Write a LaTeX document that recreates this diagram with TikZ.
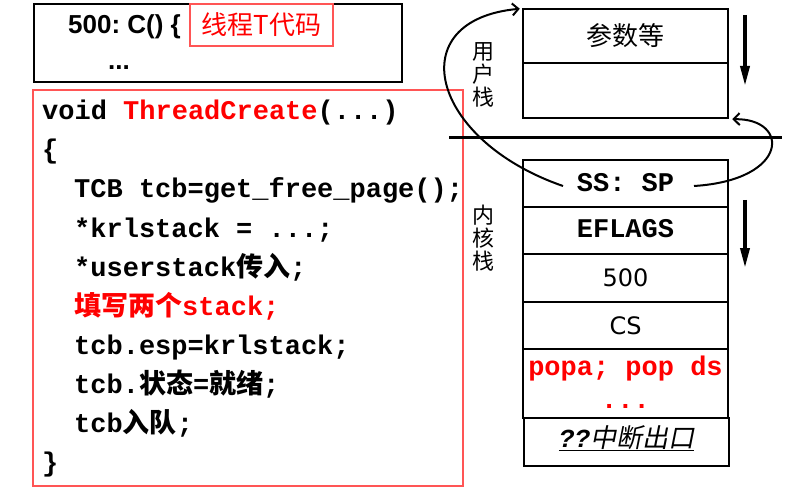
\documentclass[tikz,border=0pt]{standalone}
\usepackage{fontspec}
\setmainfont{Liberation Sans}
\setmonofont{Liberation Mono}
\newfontfamily\cjk{Noto Sans CJK SC}
\newfontfamily\cjkit[FakeSlant=0.2]{Noto Sans CJK SC}
\newfontfamily\dvs{DejaVu Sans}
\usetikzlibrary{arrows.meta,calc}
\definecolor{boxred}{RGB}{255,85,85}
\definecolor{codered}{RGB}{255,0,0}
\newcommand{\zh}[1]{{\cjk\bfseries #1}}
\frenchspacing
\begin{document}
\begin{tikzpicture}[x=1pt,y=-1pt,
  blackbox/.style={draw=black, line width=2.5pt, inner sep=0pt},
  redbox/.style={draw=boxred, line width=1.3pt, inner sep=0pt},
  codeline/.style={anchor=base west, inner sep=0pt, font=\fontsize{27}{32}\selectfont\ttfamily\bfseries},
  cell/.style={draw=black, line width=2.5pt, minimum width=205pt, inner sep=0pt, text depth=0pt, text height=16pt},
  monotext/.style={font=\fontsize{27}{32}\selectfont\ttfamily\bfseries},
  vlabel/.style={align=center, inner sep=0pt, font=\fontsize{22}{23}\selectfont\cjk},
  curvearrow/.style={draw=black, line width=2pt, -{Straight Barb[length=6pt,width=12pt]}},
  downarrow/.style={draw=black, line width=3.5pt, -{Triangle[length=20pt,width=9pt]}}
]
\useasboundingbox (0,0) rectangle (795,489);

% top code box
\node[blackbox, minimum width=368pt, minimum height=78pt] (top) at (218,43) {};
\node[anchor=base west, inner sep=0pt, font=\fontsize{26}{30}\selectfont\bfseries] (c500) at (68,34) {500: C() \{};
\node[anchor=base west, inner sep=0pt, font=\fontsize{26}{30}\selectfont\bfseries] (dots) at (108,70) {...};
\node[redbox, minimum width=143pt, minimum height=42pt, text=codered, font=\fontsize{26}{30}\selectfont\cjk] (tcode) at (261.5,25) {线程T代码};

% ThreadCreate box
\node[redbox, minimum width=430pt, minimum height=396pt] (codebox) at (248,288) {};
\node[codeline] (l0) at (42,120) {void \textcolor{codered}{ThreadCreate}(...)};
\node[codeline] (l1) at (42,159) {\{};
\node[codeline] (l2) at (74,198) {TCB tcb=get\_free\_page();};
\node[codeline] (l3) at (74,237) {*krlstack = ...;};
\node[codeline] (l4) at (74,276) {*userstack\zh{传入};};
\node[codeline, text=codered] (l5) at (74,315) {\zh{填写两个}stack;};
\node[codeline] (l6) at (74,354) {tcb.esp=krlstack;};
\node[codeline] (l7) at (74,393) {tcb.\zh{状态}=\zh{就绪};};
\node[codeline] (l8) at (74,432) {tcb\zh{入队};};
\node[codeline] (l9) at (42,471) {\}};

% user stack
\node[cell, minimum height=54pt, text height=20pt, font=\fontsize{26}{30}\selectfont\cjk] (u1) at (625.5,36) {参数等};
\node[cell, minimum height=55pt] (u2) at (625.5,90.5) {};
\node[vlabel] (ulab) at (483,75) {用\\户\\栈};

% divider
\draw[line width=3pt] (449,138) -- (782,138);

% kernel stack
\node[cell, minimum height=47pt, text height=17pt, monotext] (k1) at (625.5,183.5) {SS: SP};
\node[cell, minimum height=47pt, text height=13pt, monotext] (k2) at (625.5,230.5) {EFLAGS};
\node[cell, minimum height=48pt, font=\fontsize{24}{28}\selectfont\dvs] (k3) at (625.5,278) {500};
\node[cell, minimum height=47pt, text height=17pt, font=\fontsize{24}{28}\selectfont\dvs] (k4) at (625.5,325.5) {CS};
\node[cell, minimum height=69pt] (k5) at (625.5,383.5) {};
\node[anchor=base, inner sep=0pt, monotext, text=codered] (k5a) at (625.5,375) {popa; pop ds};
\node[anchor=base, inner sep=0pt, monotext, text=codered] (k5b) at (625.5,408) {...};
\node[cell, minimum height=48pt, text height=10pt, font=\fontsize{26}{30}\selectfont] (k6) at (626.5,442) {\underline{{\ttfamily\bfseries\itshape ??}{\cjkit 中断出口}}};
\node[vlabel] (klab) at (483,238) {内\\核\\栈};

% connectors
\coordinate (ssL) at ($(k1.center)+(-62.5,2.5)$);
\coordinate (ssR) at ($(k1.center)+(68.5,2.5)$);
\coordinate (utop) at ($(u1.north west)+(-2,1)$);
\coordinate (ubot) at ($(u2.south east)+(3,0)$);
\draw[curvearrow] (ssL) .. controls (430,140) and (400,20) .. (utop);
\draw[curvearrow] (ssR) .. controls (790,180) and (790,118) .. (ubot);

\coordinate (a1s) at (745,15);
\coordinate (a1e) at (745,86);
\coordinate (a2s) at (745,200);
\coordinate (a2e) at (745,268);
\draw[downarrow] (a1s) -- (a1e);
\draw[downarrow] (a2s) -- (a2e);
\end{tikzpicture}
\end{document}
